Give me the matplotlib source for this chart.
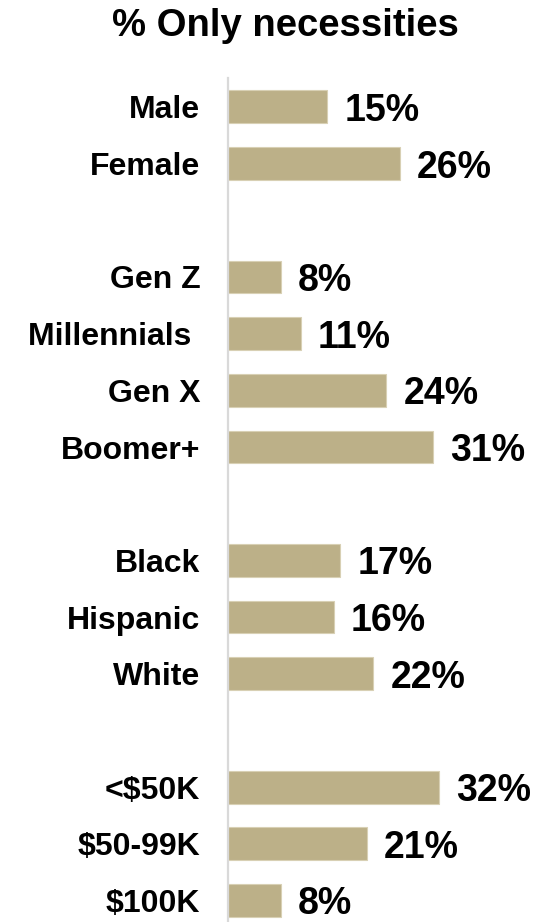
import matplotlib
matplotlib.use('Agg')
import matplotlib.pyplot as plt

# data, grouped (a blank row sits between groups)
groups = [
    ['Male', 'Female'],
    ['Gen Z', 'Millennials ', 'Gen X', 'Boomer+'],
    ['Black', 'Hispanic', 'White'],
    ['<$50K', '$50-99K', '$100K'],
]
values = [
    [15, 26],
    [8, 11, 24, 31],
    [17, 16, 22],
    [32, 21, 8],
]
title = '% Only necessities'
bar_color = '#BCB088'

plt.rcParams['font.family'] = ['Liberation Sans', 'DejaVu Sans']

labels, vals, pos = [], [], []
slot = 0
for g_labels, g_vals in zip(groups, values):
    for lab, v in zip(g_labels, g_vals):
        labels.append(lab)
        vals.append(v)
        pos.append(slot)
        slot += 1
    slot += 1

W, H = 539, 922
fig = plt.figure(figsize=(W / 100, H / 100), dpi=100)
left = 228 / W
ax = fig.add_axes([left, 0, 1 - left, 1 - 78 / H])

ax.barh(pos, vals, height=0.58, color=bar_color, edgecolor='#D8D0B4', linewidth=0.8)
ax.set_xlim(0, (W - 228) / 6.6)
ax.set_ylim(14.38, -0.51)

for p, v in zip(pos, vals):
    ax.annotate(f'{v}%', (v, p), xytext=(12.5, 0), textcoords='offset points',
                va='center_baseline', ha='left', fontsize=27, fontweight='bold')

ax.set_yticks(pos)
ax.set_yticklabels(labels, fontsize=23, fontweight='bold')
ax.tick_params(axis='y', length=0, pad=20)
ax.set_xticks([])
for s in ['top', 'right', 'bottom']:
    ax.spines[s].set_visible(False)
ax.spines['left'].set_color('#D9D9D9')
ax.spines['left'].set_linewidth(1.6)

fig.text(0.529, 1 - 22 / H, title, ha='center', va='center_baseline',
         fontsize=27.5, fontweight='bold')

fig.savefig('out.png', dpi=100)
